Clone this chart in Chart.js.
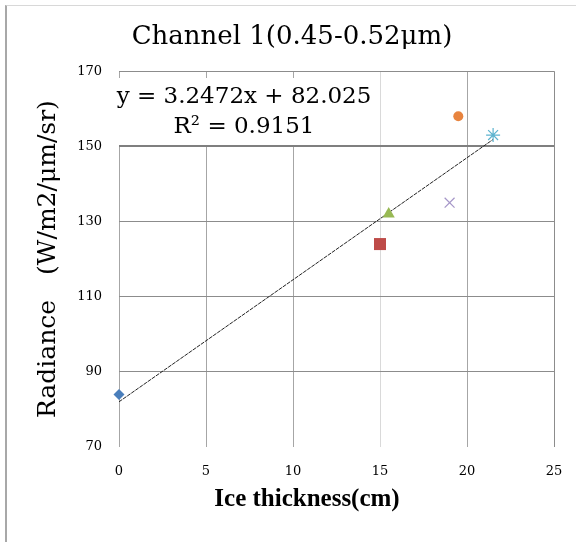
<!DOCTYPE html>
<html>
<head>
<meta charset="utf-8">
<script src="https://cdn.jsdelivr.net/npm/chart.js@4/dist/chart.umd.min.js"></script>
<style>
  html, body { margin: 0; padding: 0; background: #fff; }
  #frame {
    position: absolute; left: 5px; top: 5px; width: 571px; height: 537px;
    border-left: 2px solid #a8a8a8; border-top: 1px solid #d8d8d8;
    box-sizing: border-box;
  }
  #wrap { position: absolute; left: 0; top: 0; width: 576px; height: 542px; }
</style>
</head>
<body>
<div id="frame"></div>
<div id="wrap"><canvas id="IceChart"></canvas></div>
<script>
// measured samples: ice thickness (cm) vs radiance
const sampleNames = ["S1", "S2", "S3", "S4", "S5", "S6"];
const thickness = [0, 15, 15.5, 19, 19.5, 21.5];
const radiance = [84, 124, 132, 135, 158, 153];
const markerStyles = ["rectRot", "rect", "triangle", "crossRot", "circle", "star"];
const markerColors = ["#4a7ebb", "#be4b48", "#98b954", "#a596c8", "#e8843f", "#5cb3cf"];
const markerSizes = [5.5, 8.5, 7, 7, 5, 7];

// linear fit shown on the chart
const fitSlope = 3.2472;
const fitIntercept = 82.025;
const fitRange = [0, 21.5];
const fitLabel = ["y = 3.2472x + 82.025", "R\u00b2 = 0.9151"];

const xTicks = [0, 5, 10, 15, 20, 25];
const yTicks = [70, 90, 110, 130, 150, 170];
const xTitle = "Ice thickness(cm)";

const serif = "'DejaVu Serif', 'Liberation Serif', serif";

let datasets = [];

for (let i = 0; i < sampleNames.length; i++) {
    let isLine = markerStyles[i] === "crossRot" || markerStyles[i] === "star";
    datasets.push({
        label: sampleNames[i],
        data: [{ x: thickness[i], y: radiance[i] }],
        pointStyle: markerStyles[i],
        pointRadius: markerSizes[i],
        backgroundColor: markerColors[i],
        borderColor: markerColors[i],
        borderWidth: isLine ? 1.2 : 0,
        showLine: false,
        clip: false
    });
}

datasets.push({
    label: "Linear",
    data: fitRange.map(x => ({ x: x, y: fitSlope * x + fitIntercept })),
    showLine: true,
    borderColor: "#222",
    borderWidth: 1,
    borderDash: [4, 1],
    pointRadius: 0,
    clip: false
});

// white box with the regression equation, drawn over the grid,
// plus the x axis caption which sits left of the plot centre
const chartText = {
    id: "chartText",
    beforeDatasetsDraw(chart) {
        let ctx = chart.ctx;
        ctx.save();
        ctx.fillStyle = "#fff";
        ctx.fillRect(117, 78, 254, 67);
        ctx.fillStyle = "#000";
        ctx.font = "23px " + serif;
        ctx.textAlign = "center";
        ctx.textBaseline = "middle";
        ctx.fillText(fitLabel[0], 244, 97);
        ctx.fillText(fitLabel[1], 244, 127);
        ctx.restore();
    },
    afterDraw(chart) {
        let ctx = chart.ctx;
        ctx.save();
        ctx.fillStyle = "#000";
        ctx.font = "bold 25px 'Liberation Serif', serif";
        ctx.textAlign = "center";
        ctx.textBaseline = "middle";
        ctx.fillText(xTitle, 307, 500);
        ctx.restore();
    }
};

const config = {
    type: "scatter",
    data: { datasets: datasets },
    options: {
        responsive: true,
        maintainAspectRatio: false,
        animation: false,
        layout: { padding: { left: 30, right: 22, top: 0, bottom: 0 } },
        plugins: {
            legend: { display: false },
            tooltip: { enabled: false },
            title: {
                display: true,
                text: "Channel 1(0.45-0.52\u03bcm)",
                color: "#000",
                font: { family: serif, size: 26, weight: "normal" },
                padding: { top: 22, bottom: 18 }
            }
        },
        scales: {
            x: {
                type: "linear",
                min: 0,
                max: 25,
                afterBuildTicks: scale => { scale.ticks = xTicks.map(v => ({ value: v })); },
                afterFit: scale => {
                    scale.height = 95;
                    // only half a label of room at the ends, not the label offset too
                    scale.paddingLeft = 8;
                    scale.paddingRight = 8;
                },
                border: { display: false },
                grid: {
                    drawTicks: false,
                    color: ctx => {
                        let v = ctx.tick.value;
                        if (v === 15) return "#d9d9d9";
                        if (v === 25) return "#8c8c8c";
                        return "#a6a6a6";
                    }
                },
                ticks: {
                    color: "#000",
                    padding: 17,
                    font: { family: serif, size: 13 }
                }
            },
            y: {
                min: 70,
                max: 170,
                afterBuildTicks: scale => { scale.ticks = yTicks.map(v => ({ value: v })); },
                afterFit: scale => { scale.width = 89; },
                border: { display: false },
                grid: {
                    drawTicks: false,
                    color: ctx => {
                        let v = ctx.tick.value;
                        if (v === 70) return "rgba(0,0,0,0)";
                        if (v === 150) return "#7f7f7f";
                        return "#8c8c8c";
                    },
                    lineWidth: ctx => ctx.tick.value === 150 ? 2 : 1
                },
                ticks: {
                    color: "#000",
                    padding: 17,
                    font: { family: serif, size: 13 }
                },
                title: {
                    display: true,
                    text: "Radiance\u3000(W/m2/\u03bcm/sr)",
                    color: "#000",
                    font: { family: serif, size: 25, weight: "normal" },
                    padding: { top: 3, bottom: 0 }
                }
            }
        }
    },
    plugins: [chartText]
};

new Chart(document.getElementById("IceChart"), config);
</script>
</body>
</html>
